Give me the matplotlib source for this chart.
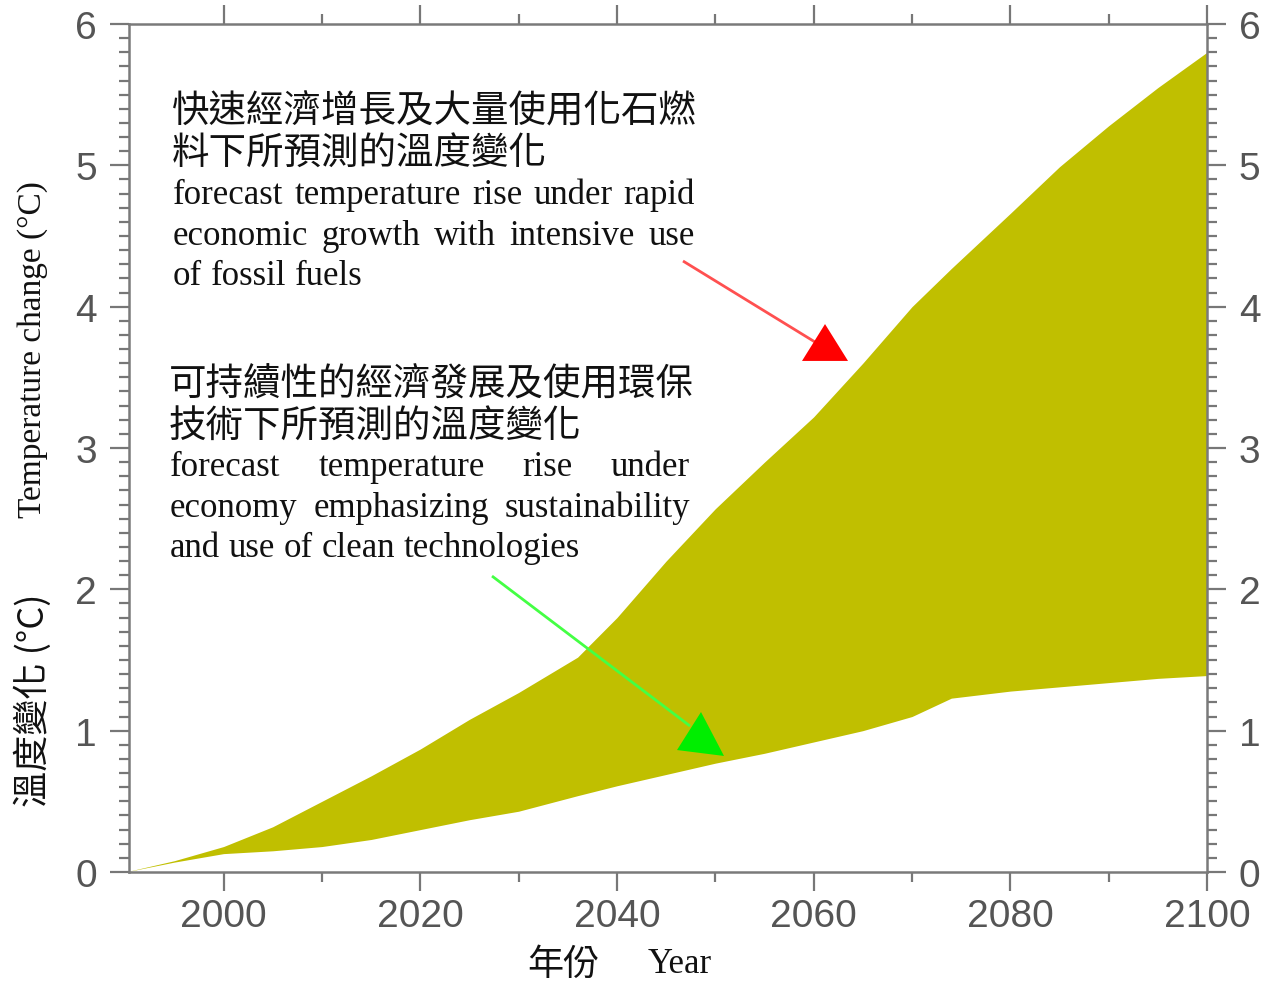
import matplotlib
matplotlib.use('Agg')
import matplotlib.pyplot as plt
from matplotlib.patches import Polygon
from matplotlib.ticker import MultipleLocator

# ---------------- data ----------------
years = [1990, 1995, 2000, 2005, 2010, 2015, 2020, 2025, 2030, 2036, 2040, 2045,
         2050, 2055, 2060, 2065, 2070, 2074, 2080, 2085, 2090, 2095, 2100]
upper = [0.0, 0.08, 0.18, 0.32, 0.50, 0.68, 0.87, 1.08, 1.27, 1.52, 1.80, 2.20,
         2.57, 2.90, 3.22, 3.60, 4.00, 4.27, 4.66, 4.99, 5.28, 5.55, 5.80]
lower = [0.0, 0.07, 0.13, 0.15, 0.18, 0.23, 0.30, 0.37, 0.43, 0.54, 0.61, 0.69,
         0.77, 0.84, 0.92, 1.00, 1.10, 1.23, 1.28, 1.31, 1.34, 1.37, 1.39]
x_ticks = [2000, 2020, 2040, 2060, 2080, 2100]
y_ticks = [0, 1, 2, 3, 4, 5, 6]

zh1 = ["快速經濟增長及大量使用化石燃", "料下所預測的溫度變化"]
en1 = ["forecast temperature rise under rapid", "economic growth with intensive use",
       "of fossil fuels"]
zh2 = ["可持續性的經濟發展及使用環保", "技術下所預測的溫度變化"]
en2 = ["forecast temperature rise under", "economy emphasizing sustainability",
       "and use of clean technologies"]

W, H = 1262, 987
plt.rcParams['font.family'] = ['Liberation Sans', 'DejaVu Sans']
CJK = ['Noto Sans CJK TC', 'DejaVu Sans']
SERIF = ['Liberation Serif', 'DejaVu Serif']

fig = plt.figure(figsize=(W / 100, H / 100), dpi=100)
L, R, T, B = 129, 1207, 25, 873
ax = fig.add_axes([L / W, 1 - B / H, (R - L) / W, (B - T) / H])

ax.fill_between(years, lower, upper, color='#c0bf00', lw=0, zorder=1)
ax.set_xlim(1990.39, 2100)
ax.set_ylim(0, 6)
ax.set_xticks(x_ticks)
ax.set_yticks(y_ticks)
ax.xaxis.set_minor_locator(MultipleLocator(10))
ax.yaxis.set_minor_locator(MultipleLocator(0.1))
ax.tick_params(which='both', direction='out', top=True, right=True,
               labelright=True, color='#777777', labelcolor='#555555')
ax.tick_params(which='major', length=14, width=1.6, labelsize=28)
ax.tick_params(which='minor', length=7, width=1.6)
ax.tick_params(axis='x', which='major', pad=5)
ax.tick_params(axis='y', which='major', pad=9)
for sp in ax.spines.values():
    sp.set_color('#7a7a7a')
    sp.set_linewidth(1.8)

renderer = fig.canvas.get_renderer()


def fx(px):
    return px / W


def fy(py):
    return 1 - py / H


def justified(line, x0, x1, ybase, justify=True):
    words = line.split()
    texts = [fig.text(0, 0, w, fontsize=25, family=SERIF, color='#111111',
                      ha='left', va='baseline') for w in words]
    widths = [t.get_window_extent(renderer).width for t in texts]
    if justify and len(words) > 1:
        gap = (x1 - x0 - sum(widths)) / (len(words) - 1)
    else:
        sp = fig.text(0, 0, 'a b', fontsize=25, family=SERIF)
        sp2 = fig.text(0, 0, 'ab', fontsize=25, family=SERIF)
        gap = sp.get_window_extent(renderer).width - sp2.get_window_extent(renderer).width
        sp.remove(); sp2.remove()
    x = x0
    for t, w in zip(texts, widths):
        t.set_position((fx(x), fy(ybase)))
        x += w + gap


# annotation block 1
for s, yc in zip(zh1, [112, 153]):
    fig.text(fx(172), fy(yc), s, fontsize=27, family=CJK, color='#111111',
             ha='left', va='center')
for i, (s, yb) in enumerate(zip(en1, [204, 245, 285])):
    justified(s, 173, 695, yb, justify=(i < len(en1) - 1))

# annotation block 2
for s, yc in zip(zh2, [385, 426]):
    fig.text(fx(169), fy(yc), s, fontsize=27, family=CJK, color='#111111',
             ha='left', va='center')
for i, (s, yb) in enumerate(zip(en2, [476, 517, 557])):
    justified(s, 170, 690, yb, justify=(i < len(en2) - 1))

# arrows (line + upright triangle head)
ax.plot([2046.72, 2060.14], [4.323, 3.75], color='#ff5050', lw=2, zorder=3,
        solid_capstyle='butt')
ax.add_patch(Polygon([[2061.16, 3.877], [2058.82, 3.616], [2063.5, 3.616]],
                     closed=True, color='#ff0000', lw=0, zorder=4))
ax.plot([2027.3, 2047.43], [2.094, 1.033], color='#44ff44', lw=2, zorder=3,
        solid_capstyle='butt')
ax.add_patch(Polygon([[2048.55, 1.132], [2046.11, 0.863], [2050.89, 0.821]],
                     closed=True, color='#00ee00', lw=0, zorder=4))

# axis labels
fig.text(fx(33), fy(350), 'Temperature change (°C)', rotation=90, fontsize=24,
         family=SERIF, color='#111111', ha='center', va='center')
fig.text(fx(33), fy(700), '溫度變化 (°C)', rotation=90, fontsize=26,
         family=CJK, color='#111111', ha='center', va='center')
fig.text(fx(563), fy(965), '年份', fontsize=26, family=CJK, color='#111111',
         ha='center', va='center')
fig.text(fx(680), fy(965), 'Year', fontsize=25, family=SERIF, color='#111111',
         ha='center', va='center')

fig.savefig('out.png', dpi=100, facecolor='white')
